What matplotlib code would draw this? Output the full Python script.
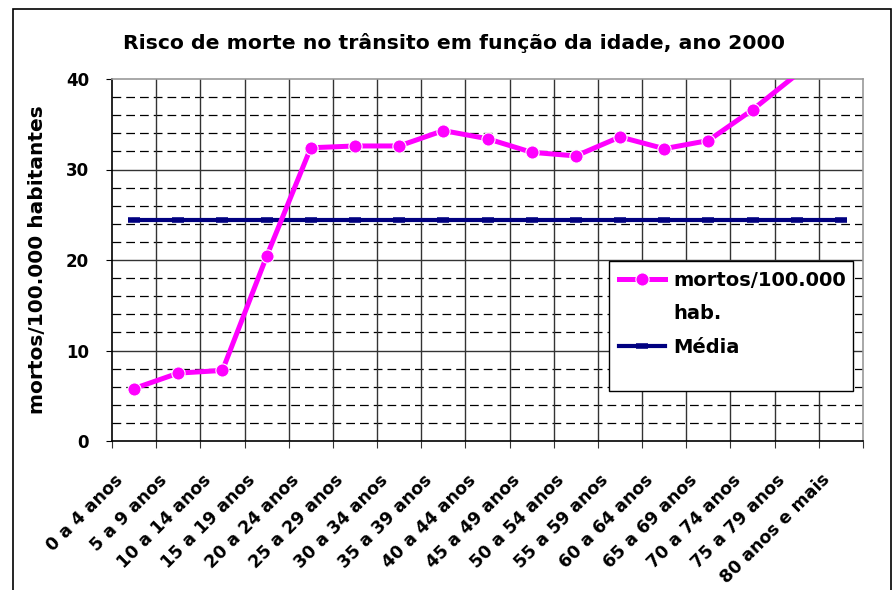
import matplotlib
matplotlib.use("Agg")
import matplotlib.pyplot as plt
from matplotlib.patches import Rectangle
from matplotlib.lines import Line2D
from matplotlib.transforms import ScaledTranslation
import numpy as np

plt.rcParams['font.family'] = ['DejaVu Sans']

faixas = ["0 a 4 anos", "5 a 9 anos", "10 a 14 anos", "15 a 19 anos", "20 a 24 anos",
          "25 a 29 anos", "30 a 34 anos", "35 a 39 anos", "40 a 44 anos", "45 a 49 anos",
          "50 a 54 anos", "55 a 59 anos", "60 a 64 anos", "65 a 69 anos", "70 a 74 anos",
          "75 a 79 anos", "80 anos e mais"]
mortos = [5.8, 7.5, 7.8, 20.4, 32.4, 32.6, 32.6, 34.3, 33.4, 31.9, 31.5, 33.6, 32.3,
          33.2, 36.6, 40.5, 44.0]
media = [24.4] * 17

ymax = 40
x = np.arange(len(faixas))

fig = plt.figure(figsize=(8.93, 5.9), dpi=100)
# moldura externa do grafico
fig.patches.append(Rectangle((13/893, -0.1), (891-13)/893, 1.1 - 9.5/590,
                             transform=fig.transFigure, fill=False, ec='black', lw=1.2))
ax = fig.add_axes([112/893, 1-441/590, (863-112)/893, (441-79)/590])

ax.set_xlim(-0.5, len(faixas) - 0.5)
ax.set_ylim(0, ymax)

# grades
ax.set_yticks([0, 10, 20, 30, 40])
for yv in np.arange(2, 40, 2):
    if yv % 10:
        ax.axhline(yv, color='black', lw=0.9, ls=(0, (7, 4)), zorder=1)
for yv in [10, 20, 30]:
    ax.axhline(yv, color='#333333', lw=1.0, zorder=1)
for xv in np.arange(0.5, len(faixas) - 1, 1):
    ax.axvline(xv, color='#333333', lw=1.0, zorder=1)

vis = [i for i, v in enumerate(mortos) if v <= ymax]
l1, = ax.plot(x, mortos, color='#FF00FF', lw=3.6, marker='o', ms=9.5, mec='white', mew=0.8,
              markevery=vis, zorder=4)
l2, = ax.plot(x, media, color='#000080', lw=3.0, marker='_', ms=8, mew=4, zorder=3)

ax.set_xticks(np.arange(-0.5, len(faixas), 1))
ax.set_xticklabels([])
ax.set_xticks(x, minor=True)
ax.set_xticklabels(faixas, minor=True, rotation=45, ha='right', va='center',
                   rotation_mode='anchor', fontsize=12.5, fontweight='bold')
ax.tick_params(axis='x', which='minor', length=0, pad=26)
ax.tick_params(axis='x', which='major', length=5, direction='out', color='#333333')
ax.tick_params(axis='y', which='major', length=4.5, direction='out', labelsize=12, pad=12)
for lab in ax.get_yticklabels():
    lab.set_fontweight('bold')
# desloca os rotulos do eixo x para a esquerda
off = ScaledTranslation(-14/100, 0, fig.dpi_scale_trans)
for t in ax.xaxis.get_minor_ticks():
    t.label1.set_transform(t.label1.get_transform() + off)

for s in ['top', 'right']:
    ax.spines[s].set_color('#999999')
    ax.spines[s].set_linewidth(1.2)
for s in ['left', 'bottom']:
    ax.spines[s].set_color('black')
    ax.spines[s].set_linewidth(1.2)

ax.set_ylabel('mortos/100.000 habitantes', fontsize=14.5, fontweight='bold')
ax.yaxis.set_label_coords((47-112)/751, 0.5)
fig.text(454/893, 1 - 43/590, 'Risco de morte no trânsito em função da idade, ano 2000',
         ha='center', va='center', fontsize=14.7, fontweight='bold')

# caixa da legenda
ax.add_patch(Rectangle(((609-112)/751, (441-391)/362), (853-609)/751, (391-261)/362,
                       transform=ax.transAxes, facecolor='white', edgecolor='black',
                       lw=1.0, zorder=5))
vazio = Line2D([], [], color='none')
leg = ax.legend([l1, vazio, l2], ['mortos/100.000', 'hab.', 'Média'], loc='upper left',
                bbox_to_anchor=((609-112)/751, (441-261)/362), frameon=False,
                prop={'weight': 'bold', 'size': 14}, handlelength=2.4,
                borderpad=0.5, borderaxespad=0, labelspacing=0.75, handletextpad=0.4)
leg.set_zorder(6)

fig.savefig('out.png', dpi=100)
